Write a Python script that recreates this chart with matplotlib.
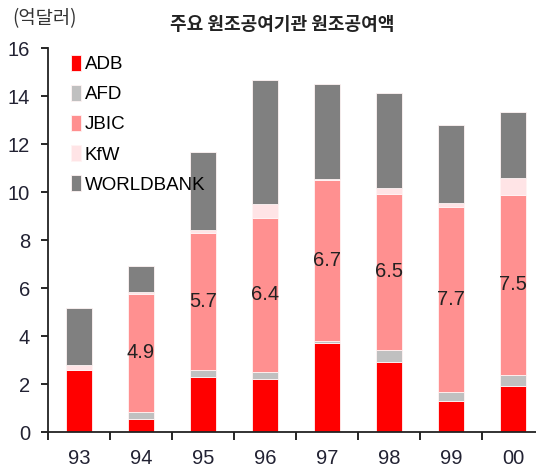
import matplotlib
matplotlib.use("Agg")
import matplotlib.pyplot as plt
import numpy as np

plt.rcParams['font.family'] = ['Liberation Sans', 'Noto Sans CJK KR', 'DejaVu Sans']

# 원조공여액 (억달러)
years = ['93', '94', '95', '96', '97', '98', '99', '00']
adb = [2.58, 0.55, 2.30, 2.20, 3.70, 2.93, 1.30, 1.92]
afd = [0.00, 0.30, 0.28, 0.31, 0.09, 0.49, 0.38, 0.46]
jbic = [0.0, 4.9, 5.7, 6.4, 6.7, 6.5, 7.7, 7.5]
kfw = [0.20, 0.08, 0.12, 0.60, 0.05, 0.25, 0.15, 0.72]
worldbank = [2.37, 1.10, 3.25, 5.15, 3.95, 3.97, 3.26, 2.72]

series = [('ADB', adb, '#ff0000'),
          ('AFD', afd, '#c0c0c0'),
          ('JBIC', jbic, '#ff9090'),
          ('KfW', kfw, '#ffe4e6'),
          ('WORLDBANK', worldbank, '#808080')]

fig = plt.figure(figsize=(5.36, 4.70), dpi=100)
ax = fig.add_axes([48/536, 38/470, 496/536, 384/470])

x = np.arange(len(years))
bottom = np.zeros(len(years))
for name, vals, col in series:
    ax.bar(x, vals, width=0.42, bottom=bottom, color=col, label=name,
           edgecolor='#fff4f4', linewidth=0.6)
    if name == 'JBIC':
        for xi, b, v in zip(x, bottom, vals):
            if v > 0:
                ax.text(xi, b + v / 2, f'{v:.1f}', ha='center', va='center',
                        fontsize=14.5, color='#222222')
    bottom += np.array(vals)

ax.set_xlim(-0.5, 7.5)
ax.set_ylim(0, 16)
ax.set_yticks(range(0, 17, 2))
ax.set_xticks(np.arange(-0.5, 8, 1), minor=False)
ax.set_xticklabels([])
ax.set_xticks(x, minor=True)
ax.set_xticklabels(years, minor=True)
ax.tick_params(axis='x', which='major', length=6, width=1.2, direction='out')
ax.tick_params(axis='x', which='minor', length=0, pad=12, labelsize=14.5,
               labelcolor='#222233')
ax.tick_params(axis='y', length=5, width=1.2, pad=8, labelsize=14.5,
               labelcolor='#222233')
for s in ['top', 'right']:
    ax.spines[s].set_visible(False)
for s in ['left', 'bottom']:
    ax.spines[s].set_linewidth(1.3)
    ax.spines[s].set_color('#222222')

leg = ax.legend(loc='upper left', bbox_to_anchor=(0.046, 0.983), frameon=False,
                fontsize=13.5, handlelength=0.55, handleheight=0.95,
                handletextpad=0.2, labelspacing=0.62, borderpad=0,
                borderaxespad=0)

fig.text(12/536, 1 - 19/470, '(억달러)', fontsize=13.5, color='#333333',
         va='center', ha='left', family=['Noto Sans CJK KR', 'DejaVu Sans'])
fig.text(282/536, 1 - 24/470, '주요 원조공여기관 원조공여액', fontsize=13,
         fontweight='bold', color='#222222', va='center', ha='center',
         family=['Noto Sans CJK KR', 'DejaVu Sans'])

fig.savefig('out.png', dpi=100)
